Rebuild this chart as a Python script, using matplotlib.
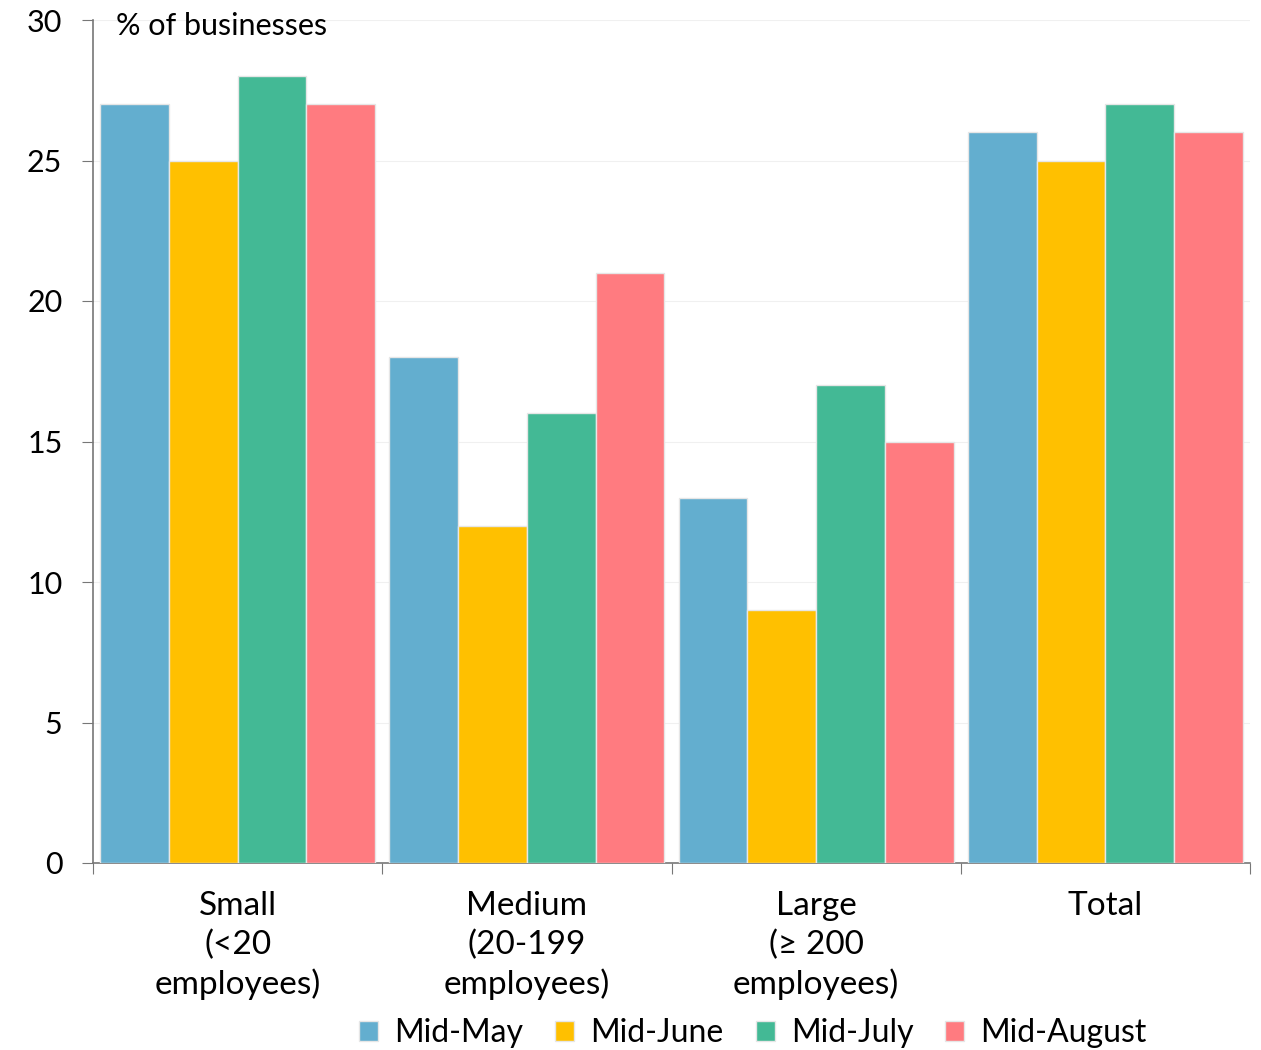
import numpy as np
import matplotlib.pyplot as plt

plt.rcParams['font.family'] = ['Lato', 'DejaVu Sans']

categories = ['Small\n(<20\nemployees)', 'Medium\n(20-199\nemployees)',
              'Large\n(\u2265 200\nemployees)', 'Total']
series = ['Mid-May', 'Mid-June', 'Mid-July', 'Mid-August']
mid_may = [27, 18, 13, 26]
mid_june = [25, 12, 9, 25]
mid_july = [28, 16, 17, 27]
mid_august = [27, 21, 15, 26]
colors = ['#63AECF', '#FFC000', '#43B995', '#FF7B80']

values = [mid_may, mid_june, mid_july, mid_august]

fig = plt.figure(figsize=(12.61, 10.5), dpi=100)
ax = fig.add_axes([93 / 1261, 1 - 863 / 1050, (1250 - 93) / 1261, (863 - 20) / 1050])

x = np.arange(len(categories))
w = 0.2375
for i, (name, vals) in enumerate(zip(series, values)):
    ax.bar(x + (i - 1.5) * w, vals, width=w, color=colors[i], label=name,
           edgecolor='#e6e6e6', linewidth=1, zorder=3)

ax.set_xlim(-0.5, len(categories) - 0.5)
ax.set_ylim(0, 30)
ax.set_yticks(range(0, 31, 5))
ax.yaxis.grid(True, color='#f0f0f0', linewidth=0.8, zorder=0)
ax.tick_params(axis='y', labelsize=22, length=8, color='#777777', pad=14)

# category labels centred, ticks at group boundaries
ax.set_xticks(np.arange(-0.5, len(categories), 1.0))
ax.set_xticklabels([])
ax.set_xticks(x, minor=True)
ax.set_xticklabels(categories, minor=True, fontsize=24, linespacing=1.35)
ax.tick_params(axis='x', which='major', length=8, color='#777777')
ax.tick_params(axis='x', which='minor', length=0, pad=20)

for s in ['top', 'right']:
    ax.spines[s].set_visible(False)
for s in ['left', 'bottom']:
    ax.spines[s].set_color('#777777')
    ax.spines[s].set_linewidth(1.2)

ax.text(0.02, 0.993, '% of businesses', transform=ax.transAxes, fontsize=22,
        va='center', ha='left')

fig.legend(loc='center', bbox_to_anchor=(753 / 1261, 1 - 1033 / 1050), ncol=4,
           frameon=False, fontsize=23, handlelength=0.6, handleheight=0.6,
           handletextpad=0.5, columnspacing=1.0)

fig.savefig('out.png', dpi=100)
